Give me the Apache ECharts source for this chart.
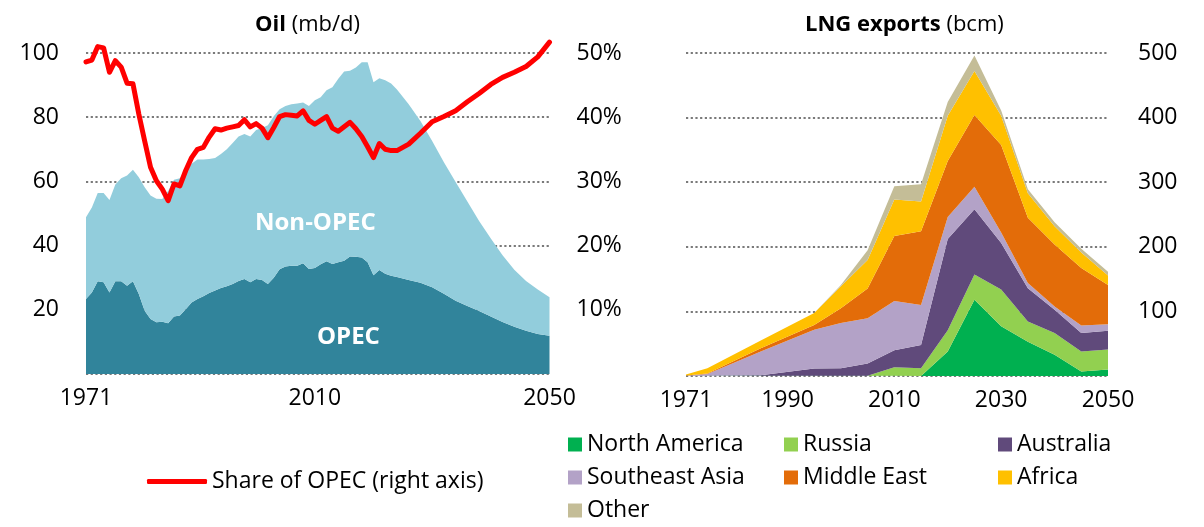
<!DOCTYPE html>
<html>
<head>
<meta charset="utf-8">
<script src="https://cdn.jsdelivr.net/npm/echarts@6/dist/echarts.min.js"></script>
<style>
  html, body { margin: 0; padding: 0; background: #fff; }
  #chart { width: 1204px; height: 527px; }
</style>
</head>
<body>
<div id="chart"></div>
<script>
// ---- Oil (mb/d) ----
const oilYears = [1971, 1972, 1973, 1974, 1975, 1976, 1977, 1978, 1979, 1980,
  1981, 1982, 1983, 1984, 1985, 1986, 1987, 1988, 1989, 1990,
  1991, 1992, 1993, 1994, 1995, 1996, 1997, 1998, 1999, 2000,
  2001, 2002, 2003, 2004, 2005, 2006, 2007, 2008, 2009, 2010,
  2011, 2012, 2013, 2014, 2015, 2016, 2017, 2018, 2019, 2020,
  2021, 2022, 2023, 2024, 2026, 2028, 2030, 2032, 2034, 2036,
  2038, 2040, 2042, 2044, 2046, 2048, 2050];
const opec = [23.4, 25.4, 28.9, 28.6, 25.4, 28.9, 28.9, 27.5, 28.9, 24.9,
  19.7, 17.1, 16.1, 16.3, 15.8, 17.9, 18.2, 20.2, 22.3, 23.4,
  24.2, 25.2, 26, 26.8, 27.3, 28, 29, 29.6, 28.6, 29.6,
  29.3, 28, 30, 32.6, 33.5, 33.7, 33.7, 34.5, 32.7, 33,
  34.2, 35.1, 34.3, 34.8, 35.3, 36.6, 36.5, 36.3, 34.8, 30.8,
  32.4, 31.2, 30.6, 30.2, 29.3, 28.4, 27, 25, 22.8, 21.2,
  19.6, 17.9, 16.2, 14.7, 13.5, 12.5, 11.9];
const nonOpec = [25.4, 26.5, 27.5, 27.8, 28.8, 30.1, 32.1, 34.3, 34.7, 36.4,
  38.5, 38.5, 38.5, 38.2, 41.2, 42.6, 42.8, 43.3, 43.2, 43.4,
  42.6, 41.8, 41.3, 41.7, 42.7, 44, 45, 45.2, 45.4, 46.4,
  47.3, 49.5, 50.3, 49.9, 50, 50.3, 50.6, 50.1, 50.8, 52.3,
  52, 53.3, 55, 57.2, 58.9, 57.9, 59, 60.8, 62.3, 60.1,
  59.7, 60.3, 59.9, 58.4, 54.7, 50.4, 45.6, 41, 37, 32.5,
  28.1, 24.3, 20.8, 17.8, 15.5, 13.8, 12];
const opecShare = [48.6, 48.9, 51, 50.8, 47, 48.8, 47.8, 45.3, 45.2, 40.5,
  36.3, 32.2, 30.1, 28.8, 27, 29.6, 29.3, 31.7, 33.7, 35,
  35.3, 36.9, 38.2, 38, 38.3, 38.5, 38.7, 39.6, 38.5, 39,
  38.3, 36.8, 38.4, 40.1, 40.4, 40.3, 40.2, 41, 39.5, 38.9,
  39.5, 40.1, 38.3, 37.8, 38.5, 39.2, 38.2, 37, 35.4, 33.7,
  35.9, 35, 34.8, 34.8, 35.8, 37.5, 39.3, 40.1, 41, 42.4,
  43.7, 45.1, 46.2, 47, 47.9, 49.4, 51.7];
const oilTicks = [1971, 2010, 2050];

// ---- LNG exports (bcm) ----
const lngYears = [1971, 1975, 1985, 1995, 2000, 2005, 2010, 2015, 2020, 2025, 2030, 2035, 2040, 2045, 2050];
const northAmerica = [0, 0.5, 0.5, 0.5, 0.5, 0.5, 0.5, 0, 38, 118, 77, 53, 33, 7, 10];
const russia = [0, 0, 0, 0, 0, 0, 13, 12, 33, 39, 57, 31.5, 33.5, 31, 31];
const australia = [0, 0, 0.5, 11, 11.5, 19, 26.5, 36, 141, 101, 72, 51.5, 36, 28.5, 29];
const seAsia = [0.5, 2.5, 37, 60, 70, 70, 76, 62, 34, 35, 16, 8, 5, 11.5, 10];
const middleEast = [0.3, 1, 5, 7.5, 23, 46, 100.6, 114, 87, 111, 135.5, 101, 96, 89, 61];
const africa = [1.5, 8, 12, 18.5, 34, 44, 56.5, 46, 70, 68, 45.5, 38, 28.5, 24, 14.5];
const other = [0, 0, 0, 0, 2, 15, 20.5, 27, 21, 24, 8, 6, 6, 6, 6];
const lngTicks = [1971, 1990, 2010, 2030, 2050];

const FONT = "'Open Sans', sans-serif";
const gridLine = { show: true, lineStyle: { color: '#7a7a7a', type: [2.2, 2.5], width: 2.2 } };

// value first, year second: with two value axes ECharts stacks the first
// numeric column, so the value column has to come first
function pairs(xs, ys) {
  return xs.map((x, i) => [ys[i], x]);
}

function area(name, xs, ys, color, stack, xi, yi) {
  return {
    name: name,
    type: 'line',
    xAxisIndex: xi,
    yAxisIndex: yi,
    stack: stack,
    data: pairs(xs, ys),
    encode: { x: 1, y: 0 },
    showSymbol: false,
    symbol: 'none',
    lineStyle: { width: 0 },
    areaStyle: { color: color, opacity: 1 },
    itemStyle: { color: color },
    emphasis: { disabled: true },
    z: 2
  };
}

function yearAxis(grid, ticks) {
  return {
    type: 'value', gridIndex: grid, min: 1971, max: 2050,
    axisLine: { show: false }, axisTick: { show: false }, splitLine: { show: false },
    axisLabel: {
      customValues: ticks,
      formatter: v => String(v),
      fontSize: 23, color: '#000', margin: 13, fontFamily: FONT
    }
  };
}

const lngNames = ['North America', 'Russia', 'Australia', 'Southeast Asia', 'Middle East', 'Africa', 'Other'];
const lngData = [northAmerica, russia, australia, seAsia, middleEast, africa, other];
const lngColors = ['#00B050', '#92D050', '#604A7B', '#B3A2C7', '#E36C09', '#FFC000', '#C4BD97'];
// legend slots: column left, row top
const lngLegendPos = [[563, 428], [779, 428], [993, 428], [563, 461], [779, 461], [993, 461], [563, 494]];

const chart = echarts.init(document.getElementById('chart'));

const lngLegends = lngNames.map((n, i) => ({
  left: lngLegendPos[i][0],
  top: lngLegendPos[i][1],
  data: [n],
  icon: 'rect',
  itemWidth: 14,
  itemHeight: 14,
  selectedMode: false,
  textStyle: { fontFamily: FONT, fontSize: 23, color: '#000' }
}));

chart.setOption({
  backgroundColor: '#fff',
  animation: false,
  textStyle: { fontFamily: FONT },
  title: [
    {
      text: '{b|Oil} (mb/d)',
      left: 250, top: 9,
      textStyle: {
        fontFamily: FONT, fontSize: 22, fontWeight: 'normal', color: '#000',
        rich: { b: { fontFamily: FONT, fontSize: 22, fontWeight: 'bold', color: '#000' } }
      }
    },
    {
      text: '{b|LNG exports} (bcm)',
      left: 800, top: 9,
      textStyle: {
        fontFamily: FONT, fontSize: 22, fontWeight: 'normal', color: '#000',
        rich: { b: { fontFamily: FONT, fontSize: 22, fontWeight: 'bold', color: '#000' } }
      }
    }
  ],
  grid: [
    { left: 86, top: 53, width: 463.5, height: 321 },
    { left: 686, top: 53, width: 422, height: 323 }
  ],
  legend: lngLegends.concat([
    {
      left: 142, top: 465,
      data: [{ name: 'Share of OPEC (right axis)', icon: 'roundRect' }],
      itemWidth: 60, itemHeight: 5,
      selectedMode: false,
      textStyle: { fontFamily: FONT, fontSize: 23, color: '#000' }
    }
  ]),
  xAxis: [yearAxis(0, oilTicks), yearAxis(1, lngTicks)],
  yAxis: [
    {
      type: 'value', gridIndex: 0, min: 0, max: 100, interval: 20, position: 'left',
      axisLine: { show: false }, axisTick: { show: false },
      splitLine: gridLine,
      axisLabel: { showMinLabel: false, fontSize: 23, color: '#000', margin: 27, fontFamily: FONT }
    },
    {
      type: 'value', gridIndex: 0, min: 0, max: 50, interval: 10, position: 'right',
      axisLine: { show: false }, axisTick: { show: false }, splitLine: { show: false },
      axisLabel: { showMinLabel: false, formatter: '{value}%', fontSize: 23, color: '#000', margin: 27, fontFamily: FONT }
    },
    {
      type: 'value', gridIndex: 1, min: 0, max: 500, interval: 100, position: 'right',
      axisLine: { show: false }, axisTick: { show: false },
      splitLine: gridLine,
      axisLabel: { showMinLabel: false, fontSize: 23, color: '#000', margin: 30, fontFamily: FONT }
    }
  ],
  graphic: [
    {
      type: 'text', left: 255, top: 211, z: 10,
      style: { text: 'Non-OPEC', fill: '#fff', font: "bold 24px 'Open Sans', sans-serif" }
    },
    {
      type: 'text', left: 317, top: 325, z: 10,
      style: { text: 'OPEC', fill: '#fff', font: "bold 24px 'Open Sans', sans-serif" }
    }
  ],
  series: [
    area('OPEC', oilYears, opec, '#31849B', 'oil', 0, 0),
    area('Non-OPEC', oilYears, nonOpec, '#92CDDC', 'oil', 0, 0),
    {
      name: 'Share of OPEC (right axis)',
      type: 'line',
      xAxisIndex: 0,
      yAxisIndex: 1,
      data: pairs(oilYears, opecShare),
      encode: { x: 1, y: 0 },
      showSymbol: false,
      symbol: 'none',
      clip: false,
      lineStyle: { color: '#FF0000', width: 5, join: 'round', cap: 'round' },
      itemStyle: { color: '#FF0000' },
      emphasis: { disabled: true },
      z: 5
    }
  ].concat(lngNames.map((n, i) => area(n, lngYears, lngData[i], lngColors[i], 'lng', 1, 2)))
});
</script>
</body>
</html>
